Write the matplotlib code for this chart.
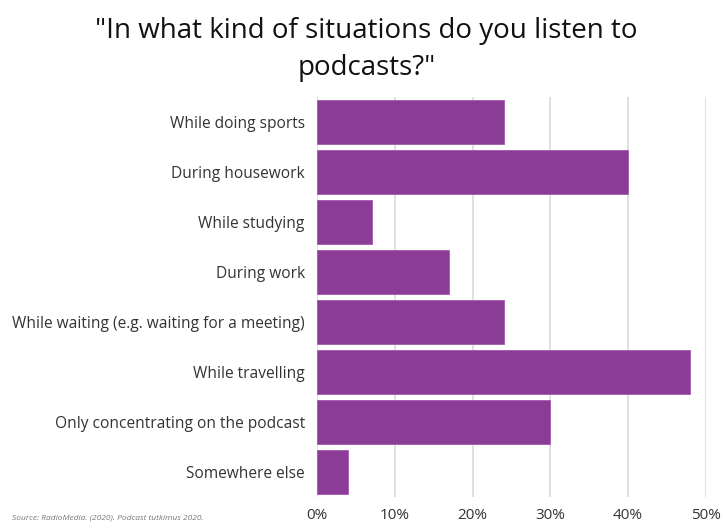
import matplotlib
matplotlib.use("Agg")
import matplotlib.pyplot as plt
from matplotlib.ticker import FuncFormatter

plt.rcParams["font.family"] = ["Open Sans", "DejaVu Sans"]

# Survey answers, top to bottom
categories = [
    "While doing sports",
    "During housework",
    "While studying",
    "During work",
    "While waiting (e.g. waiting for a meeting)",
    "While travelling",
    "Only concentrating on the podcast",
    "Somewhere else",
]
shares = [24, 40, 7, 17, 24, 48, 30, 4]
x_ticks = [0, 10, 20, 30, 40, 50]

bar_color = "#8b3c96"
text_color = "#333333"

fig = plt.figure(figsize=(7.23, 5.28), dpi=100)
ax = fig.add_axes([0.4389, 0.0587, 0.5372, 0.7576])

ypos = list(range(len(categories)))
ax.barh(ypos, shares, height=0.88, color=bar_color, edgecolor="#a35aad",
        linewidth=0.6, zorder=3)

ax.set_ylim(len(categories) - 0.5, -0.5)
ax.set_xlim(0, 50)
ax.set_yticks(ypos)
ax.set_yticklabels(categories, fontsize=11.2, color=text_color)
ax.set_xticks(x_ticks)
ax.xaxis.set_major_formatter(FuncFormatter(lambda v, p: f"{v:.0f}%"))
ax.tick_params(axis="x", labelsize=11, labelcolor=text_color, length=0, pad=8)
ax.tick_params(axis="y", length=0, pad=9)

ax.grid(axis="x", color="#dddddd", linewidth=1.3, zorder=0)
for side in ax.spines.values():
    side.set_visible(False)

fig.text(0.507, 0.968, "\"In what kind of situations do you listen to\npodcasts?\"",
         ha="center", va="top", fontsize=20, color="#111111", linespacing=1.45)

fig.text(0.017, 0.012, "Source: RadioMedia. (2020). Podcast tutkimus 2020.",
         fontsize=6, style="italic", color="#777777", ha="left", va="bottom")

fig.savefig("out.png", dpi=100)
plt.close(fig)
